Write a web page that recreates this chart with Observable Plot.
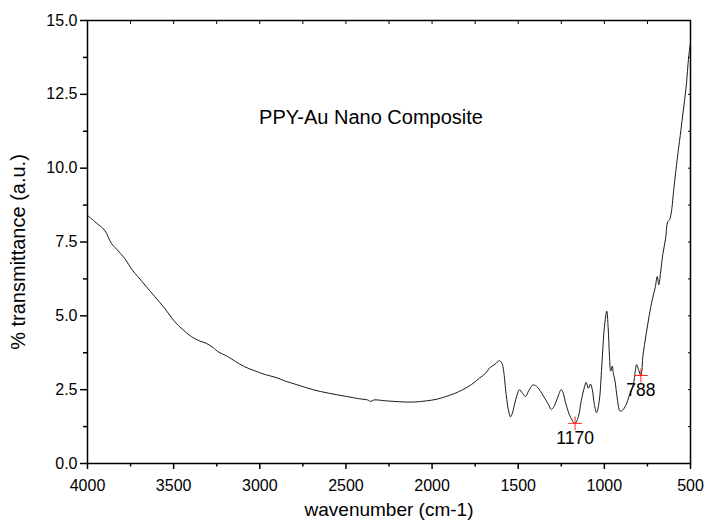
<!DOCTYPE html>
<html>
<head>
<meta charset="utf-8">
<script src="https://cdn.jsdelivr.net/npm/d3@7"></script>
<script src="https://cdn.jsdelivr.net/npm/@observablehq/plot@0.6"></script>
<style>
  html, body { margin: 0; padding: 0; background: #fff; }
  #chart { width: 706px; height: 527px; }
</style>
</head>
<body>
<div id="chart"></div>
<script>
// FTIR spectrum of the PPY-Au nanocomposite: wavenumber (cm-1) vs transmittance
const wavenumber = [
  4000, 3950, 3901, 3862, 3830, 3785, 3740, 3708, 3660, 3611, 3553, 3495, 3450, 3398, 3350,
  3311, 3270, 3244, 3186, 3140, 3089, 3030, 2973, 2900, 2857, 2780, 2692, 2600, 2498, 2420,
  2373, 2355, 2340, 2266, 2190, 2112, 2034, 1970, 1918, 1870, 1822, 1770, 1725, 1690, 1667,
  1635, 1609, 1595, 1585, 1570, 1555, 1545, 1535, 1522, 1505, 1493, 1475, 1458, 1440, 1415,
  1395, 1377, 1345, 1320, 1309, 1295, 1270, 1251, 1240, 1222, 1195, 1170, 1150, 1135, 1115,
  1106, 1093, 1081, 1070, 1058, 1045, 1030, 1015, 1000, 986, 978, 970, 963, 954, 948,
  938, 925, 909, 895, 874, 855, 832, 820, 813, 800, 788, 775, 758, 740, 720,
  705, 693, 684, 675, 661, 645, 632, 622, 612, 595, 574, 564, 545, 526, 510,
  500
];
const transmittance = [
  8.40, 8.15, 7.90, 7.46, 7.25, 6.95, 6.55, 6.33, 6.00, 5.66, 5.26, 4.81, 4.55, 4.30, 4.15,
  4.07, 3.92, 3.79, 3.62, 3.45, 3.28, 3.14, 3.02, 2.90, 2.80, 2.66, 2.50, 2.38, 2.27, 2.19,
  2.15, 2.10, 2.15, 2.12, 2.09, 2.08, 2.12, 2.18, 2.27, 2.37, 2.50, 2.68, 2.89, 3.05, 3.23,
  3.36, 3.48, 3.40, 3.15, 2.33, 1.75, 1.58, 1.68, 1.99, 2.35, 2.50, 2.38, 2.27, 2.45, 2.66,
  2.62, 2.50, 2.20, 1.95, 1.83, 1.90, 2.25, 2.50, 2.40, 1.99, 1.55, 1.36, 1.60, 2.10, 2.60,
  2.75, 2.55, 2.69, 2.50, 2.00, 1.72, 2.10, 3.30, 4.60, 5.16, 4.60, 3.60, 3.13, 3.30, 3.05,
  2.79, 2.20, 1.78, 1.80, 1.99, 2.30, 2.67, 3.15, 3.35, 3.15, 2.98, 3.70, 4.36, 5.00, 5.60,
  5.95, 6.33, 6.05, 6.40, 7.07, 7.60, 8.19, 8.25, 8.48, 9.40, 10.45, 10.90, 11.80, 12.71, 13.80,
  14.25
];

// labelled absorption minima
const peakWavenumber = [1170, 788];
const peakTransmittance = [1.36, 2.98];

// axis ticks and labels
const xMajorTicks = [4000, 3500, 3000, 2500, 2000, 1500, 1000, 500];
const xMinorTicks = [3750, 3250, 2750, 2250, 1750, 1250, 750];
const yMajorTicks = [0, 2.5, 5, 7.5, 10, 12.5, 15];
const yMinorTicks = [1.25, 3.75, 6.25, 8.75, 11.25, 13.75];
const chartTitle = "PPY-Au Nano Composite";
const xTitle = "wavenumber (cm-1)";
const yTitle = "% transmittance (a.u.)";

const spectrum = wavenumber.map((w, i) => ({w, t: transmittance[i]}));
const peaks = peakWavenumber.map((w, i) => ({w, t: peakTransmittance[i], label: String(w)}));
const blank = () => "";

const chart = Plot.plot({
  width: 706,
  height: 527,
  marginLeft: 87,
  marginRight: 16,
  marginTop: 20,
  marginBottom: 64,
  style: {fontFamily: "'Liberation Sans', Arial, sans-serif", fontSize: "16px", background: "#fff", color: "#000"},
  x: {domain: [4000, 500]},
  y: {domain: [0, 15]},
  marks: [
    Plot.frame({stroke: "#000", strokeWidth: 1.5}),
    // bottom axis
    Plot.axisX({ticks: xMajorTicks, tickSize: 6, tickPadding: 10, tickFormat: d3.format("d"), label: null, fontSize: 16, strokeWidth: 1.5}),
    Plot.axisX({ticks: xMinorTicks, tickSize: 3.5, tickFormat: blank, label: null, strokeWidth: 1.5}),
    // left axis
    Plot.axisY({ticks: yMajorTicks, tickSize: 7, tickPadding: 3, tickFormat: d3.format(".1f"), label: null, fontSize: 16, strokeWidth: 1.5}),
    Plot.axisY({ticks: yMinorTicks, tickSize: 4, tickFormat: blank, label: null, strokeWidth: 1.5}),
    // inward ticks on the top and right edges
    Plot.axisX({anchor: "top", ticks: xMajorTicks.concat(xMinorTicks), tickSize: 3, dy: 3, tickFormat: blank, label: null}),
    Plot.axisY({anchor: "right", ticks: yMajorTicks.concat(yMinorTicks), tickSize: 3, dx: -3, tickFormat: blank, label: null}),
    // spectrum
    Plot.line(spectrum, {x: "w", y: "t", stroke: "#1a1a1a", strokeWidth: 1, curve: "catmull-rom"}),
    // peak markers and their wavenumbers
    Plot.dot(peaks, {x: "w", y: "t", symbol: "plus", r: 4.5, stroke: "#ff2020", strokeWidth: 1}),
    Plot.text(peaks, {x: "w", y: "t", text: "label", dy: 15, fontSize: 17.5, fill: "#000"}),
    // titles
    Plot.text([chartTitle], {frameAnchor: "top", dx: -18, dy: 89, fontSize: 20, fill: "#000"}),
    Plot.text([xTitle], {frameAnchor: "bottom", dy: 52, fontSize: 19, fill: "#000"}),
    Plot.text([yTitle], {frameAnchor: "left", textAnchor: "middle", dx: -69, dy: 10, rotate: -90, fontSize: 20, fill: "#000"})
  ]
});

document.getElementById("chart").appendChild(chart);
</script>
</body>
</html>
